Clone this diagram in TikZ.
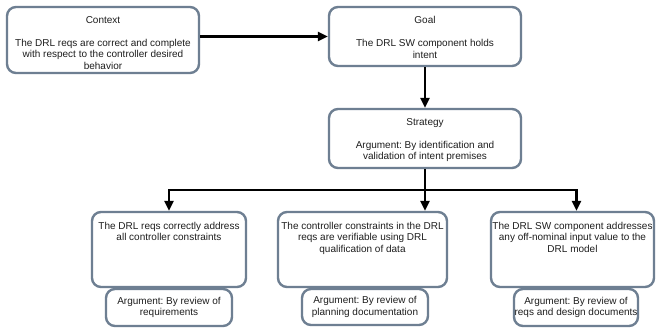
\documentclass[tikz,border=0pt]{standalone}
\usepackage{fontspec}
\setmainfont{Liberation Sans}
\usetikzlibrary{arrows.meta}
\definecolor{bord}{HTML}{6E7F92}
\definecolor{ink}{HTML}{1E1E1E}
\frenchspacing
\begin{document}
\frenchspacing
\begin{tikzpicture}[x=1pt,y=-1pt,
  box/.style={draw=bord,line width=2.4pt,rounded corners=9pt,fill=white,inner sep=0pt},
  txt/.style={align=center,font=\fontsize{10}{11.5}\selectfont\frenchspacing,inner sep=0pt,text=ink},
  conn/.style={line width=2.4pt,black},
  arr/.style={conn,-{Triangle[length=10pt,width=9pt]}}]
\useasboundingbox[fill=white] (0,0) rectangle (656,331);

% upper boxes
\node[box,minimum width=192pt,minimum height=66pt] (ctx) at (103,40) {};
\node[txt,anchor=north] (ctxT) at ([yshift=-10.5pt]ctx.north)
  {Context\\[11.5pt]The DRL reqs are correct and complete\\with respect to the controller desired\\behavior};

\node[box,minimum width=192pt,minimum height=59pt] (goal) at (425,36.5) {};
\node[txt,anchor=north] (goalT) at ([yshift=-10.5pt]goal.north)
  {Goal\\[11.5pt]The DRL SW component holds\\intent};

\node[box,minimum width=192pt,minimum height=59pt] (strat) at (425,138.5) {};
\node[txt,anchor=north] (stratT) at ([yshift=-10.5pt]strat.north)
  {Strategy\\[11.5pt]Argument: By identification and\\validation of intent premises};

% lower boxes
\node[box,minimum width=154pt,minimum height=75pt] (b1) at (169,249.5) {};
\node[txt,anchor=north] (b1T) at ([yshift=-11pt]b1.north)
  {The DRL reqs correctly address\\all controller constraints};

\node[box,minimum width=169pt,minimum height=75pt] (b2) at (362.5,249.5) {};
\node[txt,anchor=north] (b2T) at ([yshift=-11pt]b2.north)
  {The controller constraints in the DRL\\reqs are verifiable using DRL\\qualification of data};

\node[box,minimum width=163pt,minimum height=75pt] (b3) at (572.5,249.5) {};
\node[txt,anchor=north] (b3T) at ([yshift=-11pt]b3.north)
  {The DRL SW component addresses\\any off-nominal input value to the\\DRL model};

% argument boxes
\node[box,txt,minimum width=126pt,minimum height=37pt] (s1) at (169,307.5)
  {Argument: By review of\\requirements};
\node[box,txt,minimum width=126pt,minimum height=36pt] (s2) at (365,307)
  {Argument: By review of\\planning documentation};
\node[box,txt,minimum width=124pt,minimum height=37pt] (s3) at (576,307.5)
  {Argument: By review of\\reqs and design documents};

% connectors
\draw[arr] (ctx.east |- goal.west) -- (goal.west);
\draw[arr] (goal.south) -- (strat.north);
\coordinate (bus) at (425,190);
\draw[conn] (strat.south) -- (bus);
\draw[arr] (bus) -| (b1.north);
\draw[arr] (bus) -- (bus |- b2.north);
\draw[arr] (bus) -| ([xshift=4pt]b3.north);
\end{tikzpicture}
\end{document}
